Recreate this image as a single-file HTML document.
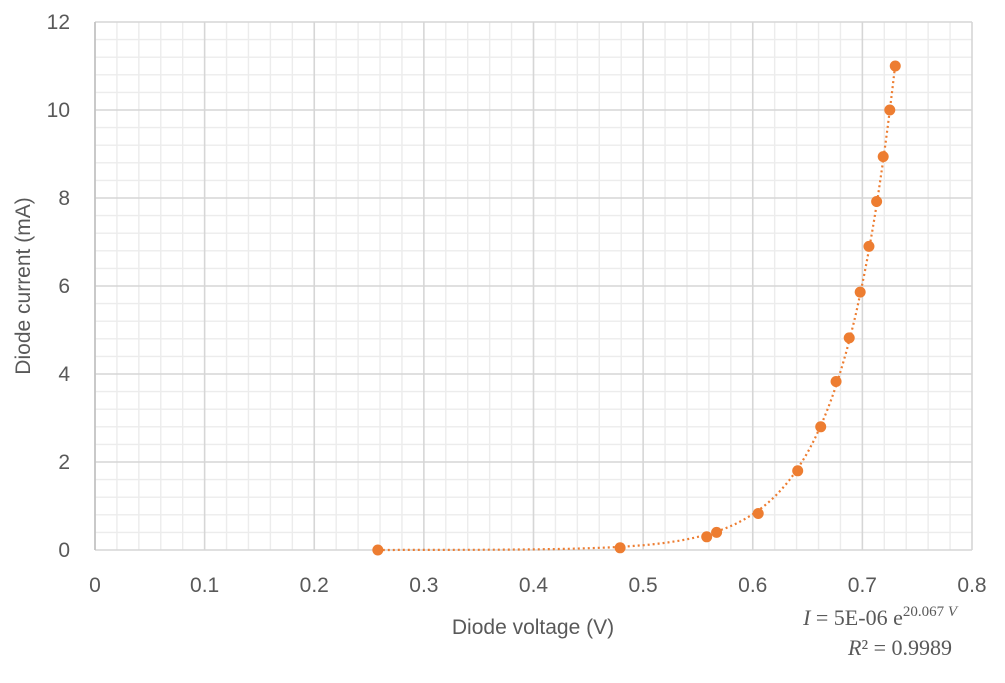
<!DOCTYPE html>
<html><head><meta charset="utf-8"><style>
body{margin:0;background:#fff;}
svg text{font-family:"Liberation Sans",sans-serif;}
</style></head><body>
<svg id="chart" width="1005" height="678" xmlns="http://www.w3.org/2000/svg">
<g id="grid"></g>
<g id="ticks"></g>
<path id="trend" fill="none" stroke="#ED7D31" stroke-width="2.2" stroke-dasharray="2,3"/>
<g id="pts"></g>
<text x="533" y="634" font-size="21" fill="#595959" text-anchor="middle">Diode voltage (V)</text>
<text transform="translate(30,286) rotate(-90)" font-size="21" fill="#595959" text-anchor="middle">Diode current (mA)</text>
<text x="957" y="625" font-size="22" fill="#595959" text-anchor="end" style="font-family:'Liberation Serif',serif"><tspan font-style="italic">I</tspan> = 5E-06 e<tspan dy="-9" font-size="15">20.067 </tspan><tspan font-size="15" font-style="italic">V</tspan></text>
<text x="952" y="655" font-size="22" fill="#595959" text-anchor="end" style="font-family:'Liberation Serif',serif"><tspan font-style="italic">R</tspan>² = 0.9989</text>
</svg>
<script>
const voltages=[0.258,0.479,0.558,0.567,0.605,0.641,0.662,0.676,0.688,0.698,0.706,0.713,0.719,0.725,0.730];
const currents=[0,0.05,0.3,0.4,0.83,1.8,2.8,3.83,4.82,5.86,6.9,7.92,8.94,10.0,11.0];
const xTicks=[0,0.1,0.2,0.3,0.4,0.5,0.6,0.7,0.8];
const yTicks=[0,2,4,6,8,10,12];
const fitA=4.8e-6, fitB=20.067;
const X0=95,X1=972,Y0=550,Y1=22;
const sx=v=>X0+(v/0.8)*(X1-X0);
const sy=v=>Y0-(v/12)*(Y0-Y1);
const NS="http://www.w3.org/2000/svg";
const grid=document.getElementById('grid'),ticks=document.getElementById('ticks'),pts=document.getElementById('pts');
function line(x1,y1,x2,y2,c,w){const l=document.createElementNS(NS,'line');l.setAttribute('x1',x1);l.setAttribute('y1',y1);l.setAttribute('x2',x2);l.setAttribute('y2',y2);l.setAttribute('stroke',c);l.setAttribute('stroke-width',w);


grid.appendChild(l);}
for(let i=0;i<=40;i++){const v=i*0.02;if(i%5)line(sx(v),Y1,sx(v),Y0,'#ececec',1.4);}
for(let i=0;i<=30;i++){const v=i*0.4;if(i%5)line(X0,sy(v),X1,sy(v),'#ececec',1.4);}
xTicks.forEach(v=>line(sx(v),Y1,sx(v),Y0,'#d6d6d6',1.6));
yTicks.forEach(v=>line(X0,sy(v),X1,sy(v),'#d6d6d6',1.6));
line(X0,Y1,X0,Y0,'#bfbfbf',1.5);
xTicks.forEach(v=>{const t=document.createElementNS(NS,'text');t.setAttribute('x',sx(v));t.setAttribute('y',592);t.setAttribute('text-anchor','middle');t.setAttribute('font-size','21');t.setAttribute('fill','#595959');t.textContent=String(v);


ticks.appendChild(t);});
yTicks.forEach(v=>{const t=document.createElementNS(NS,'text');t.setAttribute('x',70);t.setAttribute('y',sy(v)+7);t.setAttribute('text-anchor','end');t.setAttribute('font-size','21');t.setAttribute('fill','#595959');t.textContent=String(v);


ticks.appendChild(t);});
let d='';const vmin=Math.min(...voltages),vmax=Math.max(...voltages);
for(let i=0;i<=200;i++){const v=vmin+(vmax-vmin)*i/200;d+=(i?'L':'M')+sx(v).toFixed(1)+','+sy(fitA*Math.exp(fitB*v)).toFixed(1);}
document.getElementById('trend').setAttribute('d',d);
voltages.forEach((v,i)=>{const c=document.createElementNS(NS,'circle');c.setAttribute('cx',sx(v));c.setAttribute('cy',sy(currents[i]));c.setAttribute('r',5.5);c.setAttribute('fill','#ED7D31');


pts.appendChild(c);});
</script>
</body></html>
